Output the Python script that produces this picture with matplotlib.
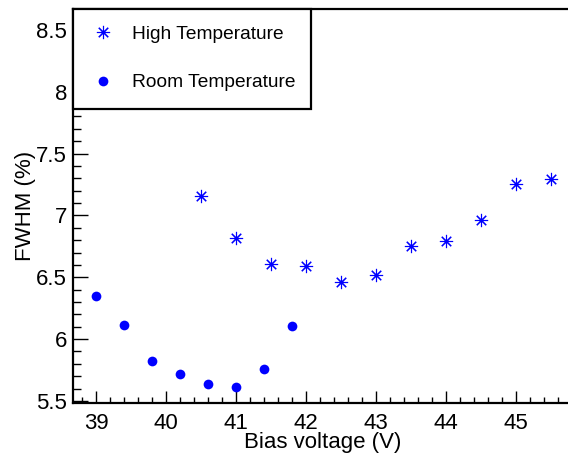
import matplotlib
matplotlib.use("Agg")
import matplotlib.pyplot as plt
from matplotlib.ticker import MultipleLocator

plt.rcParams['font.family'] = ['Liberation Sans', 'DejaVu Sans']

# Data
room_v = [39.0, 39.4, 39.8, 40.2, 40.6, 41.0, 41.4, 41.8]
room_fwhm = [6.35, 6.115, 5.82, 5.72, 5.64, 5.61, 5.76, 6.11]
high_v = [40.5, 41.0, 41.5, 42.0, 42.5, 43.0, 43.5, 44.0, 44.5, 45.0, 45.5]
high_fwhm = [7.16, 6.815, 6.61, 6.59, 6.46, 6.52, 6.755, 6.79, 6.965, 7.255, 7.295]
labels = ["High Temperature", "Room Temperature"]

W, H = 568, 457
fig = plt.figure(figsize=(W / 100, H / 100), dpi=100)
left, right, top, bottom = 72.7, 568, 8.5, 402.7
ax = fig.add_axes([left / W, 1 - bottom / H, (right - left) / W, (bottom - top) / H])

blue = (0, 0, 1)
ax.plot(high_v, high_fwhm, linestyle='none', marker=(8, 2, 0), markersize=9.5,
        markeredgewidth=0.8, color=blue, label=labels[0])
ax.plot(room_v, room_fwhm, linestyle='none', marker='o', markersize=7,
        color=blue, markeredgewidth=0, label=labels[1])

ax.set_xlim(38.667, 45.74)
ax.set_ylim(5.486, 8.673)

ax.xaxis.set_major_locator(MultipleLocator(1))
ax.xaxis.set_minor_locator(MultipleLocator(0.2))
ax.yaxis.set_major_locator(MultipleLocator(0.5))
ax.yaxis.set_minor_locator(MultipleLocator(0.1))
ax.set_yticks([5.5, 6, 6.5, 7, 7.5, 8, 8.5])
ax.set_yticklabels(["5.5", "6", "6.5", "7", "7.5", "8", "8.5"])

ax.spines['right'].set_visible(False)
for s in ['left', 'bottom', 'top']:
    ax.spines[s].set_linewidth(1.6)

ax.tick_params(axis='x', which='major', direction='in', length=8.4, width=1.0,
               labelsize=16, pad=7.2)
ax.tick_params(axis='x', which='minor', direction='in', length=4.2, width=1.0)
ax.tick_params(axis='y', which='major', direction='in', length=10.5, width=1.0,
               labelsize=16, pad=4)
ax.tick_params(axis='y', which='minor', direction='in', length=5.7, width=1.0)
ax.tick_params(top=False, right=False, which='both')

fig.text(323 / W, 1 - 442.5 / H, "Bias voltage (V)", fontsize=16, ha='center', va='center')
fig.text(25 / W, 1 - 206 / H, "FWHM (%)", fontsize=16, ha='center', va='center',
         rotation=90)

leg_w = (311 - 73) / (right - left)
leg_h = (108 - 8.5) / (bottom - top)
leg = ax.legend(loc='upper left', bbox_to_anchor=(0, 1 - leg_h, leg_w, leg_h),
                mode='expand', borderaxespad=0, fancybox=False, edgecolor='black',
                framealpha=1, fontsize=13.8, handlelength=1.32, handletextpad=0.9,
                labelspacing=1.6, borderpad=0.9)
leg.get_frame().set_linewidth(1.6)

fig.savefig("out.png", dpi=100)
